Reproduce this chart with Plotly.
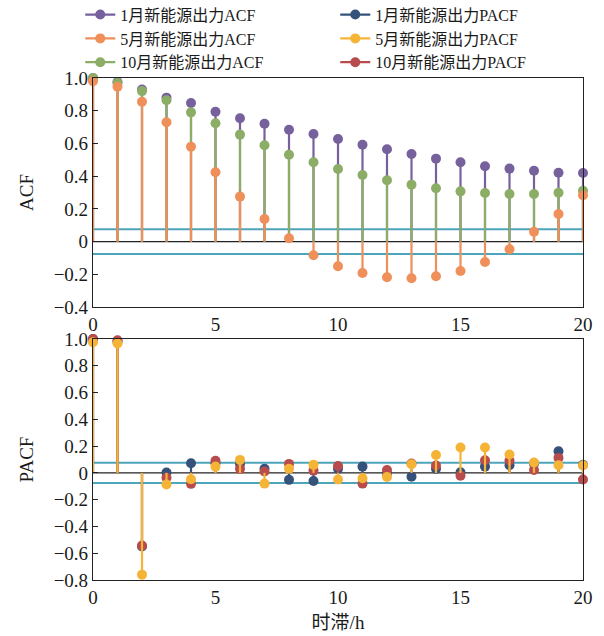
import plotly.graph_objects as go
from plotly.subplots import make_subplots

lags = list(range(21))

acf_jan = [1.0, 0.975, 0.93, 0.88, 0.847, 0.794, 0.754, 0.72, 0.684, 0.658, 0.627,
           0.592, 0.564, 0.535, 0.507, 0.485, 0.46, 0.446, 0.433, 0.421, 0.419]
acf_may = [0.98, 0.947, 0.855, 0.73, 0.58, 0.424, 0.275, 0.138, 0.02, -0.084, -0.151,
           -0.192, -0.218, -0.224, -0.212, -0.18, -0.125, -0.047, 0.06, 0.169, 0.283]
acf_oct = [1.0, 0.97, 0.92, 0.864, 0.79, 0.723, 0.654, 0.589, 0.531, 0.485, 0.444,
           0.407, 0.375, 0.348, 0.326, 0.307, 0.297, 0.291, 0.291, 0.299, 0.311]

pacf_jan = [1.0, 0.98, -0.55, 0.003, 0.072, 0.072, 0.067, 0.03, -0.052, -0.06, 0.03,
            0.047, -0.003, -0.028, 0.03, 0.005, 0.047, 0.057, 0.068, 0.162, 0.06]
pacf_may = [0.976, 0.966, -0.76, -0.087, -0.048, 0.047, 0.097, -0.08, 0.03, 0.06, -0.05,
            -0.04, -0.03, 0.064, 0.134, 0.19, 0.19, 0.137, 0.077, 0.057, 0.057]
pacf_oct = [1.0, 0.99, -0.543, -0.037, -0.082, 0.09, 0.03, 0.01, 0.067, 0.017, 0.052,
            -0.08, 0.022, 0.07, 0.055, -0.022, 0.094, 0.092, 0.022, 0.112, -0.05]

conf = 0.0756

acf_ticks = [-0.4, -0.2, 0, 0.2, 0.4, 0.6, 0.8, 1.0]
acf_ticktext = ["\u22120.4", "\u22120.2", "0", "0.2", "0.4", "0.6", "0.8", "1.0"]
pacf_ticks = [-0.8, -0.6, -0.4, -0.2, 0, 0.2, 0.4, 0.6, 0.8, 1.0]
pacf_ticktext = ["\u22120.8", "\u22120.6", "\u22120.4", "\u22120.2", "0", "0.2", "0.4", "0.6", "0.8", "1.0"]
x_ticks = [0, 5, 10, 15, 20]

FONT = "Liberation Serif, Noto Sans CJK SC, serif"

C_PURPLE = "#76619D"
C_ORANGE = "#EF8F5A"
C_GREEN = "#8CAD66"
C_NAVY = "#35527B"
C_YELLOW = "#F6B436"
C_RED = "#B84C4C"
C_TEAL = "#4CA5BA"

fig = make_subplots(rows=2, cols=1, shared_xaxes=False, vertical_spacing=0.0)


def add_series(vals, color, name, rank, row):
    xs, ys = [], []
    for x, v in zip(lags, vals):
        xs += [x, x, None]
        ys += [0, v, None]
    fig.add_trace(go.Scatter(x=xs, y=ys, mode="lines", line=dict(color=color, width=2.2),
                             showlegend=False, hoverinfo="skip", cliponaxis=False), row=row, col=1)
    fig.add_trace(go.Scatter(x=lags, y=vals, mode="markers",
                             marker=dict(color=color, size=10), showlegend=False,
                             cliponaxis=False), row=row, col=1)
    fig.add_trace(go.Scatter(x=[None], y=[None], mode="lines+markers", name=name,
                             line=dict(color=color, width=2.2), marker=dict(color=color, size=10),
                             legendrank=rank), row=row, col=1)


add_series(acf_jan, C_PURPLE, "1月新能源出力ACF", 1, 1)
add_series(acf_oct, C_GREEN, "10月新能源出力ACF", 5, 1)
add_series(acf_may, C_ORANGE, "5月新能源出力ACF", 3, 1)
add_series(pacf_jan, C_NAVY, "1月新能源出力PACF", 2, 2)
add_series(pacf_oct, C_RED, "10月新能源出力PACF", 6, 2)
add_series(pacf_may, C_YELLOW, "5月新能源出力PACF", 4, 2)

shapes = []
for xr, yr in (("x", "y"), ("x2", "y2")):
    shapes.append(dict(type="line", xref=xr + " domain", yref=yr, x0=0, x1=1, y0=conf, y1=conf,
                       line=dict(color=C_TEAL, width=2), layer="below"))
    shapes.append(dict(type="line", xref=xr + " domain", yref=yr, x0=0, x1=1, y0=-conf, y1=-conf,
                       line=dict(color=C_TEAL, width=2), layer="below"))
    shapes.append(dict(type="line", xref=xr + " domain", yref=yr, x0=0, x1=1, y0=0, y1=0,
                       line=dict(color="#222222", width=1.2), layer="below"))

axis_common = dict(showline=True, linecolor="#222222", linewidth=1.2, mirror=True,
                   showgrid=False, zeroline=False,
                   tickfont=dict(family=FONT, size=19, color="#1a1a1a"))

fig.update_xaxes(**axis_common, range=[0, 20], tickvals=x_ticks, ticks="", ticklabelstandoff=0)
fig.update_xaxes(title=dict(text="时滞/h", font=dict(family=FONT, size=19, color="#1a1a1a"), standoff=8),
                 row=2, col=1)
fig.update_yaxes(**axis_common, ticks="inside", ticklen=5, tickcolor="#222222")
fig.update_yaxes(range=[-0.4, 1.0], tickvals=acf_ticks, ticktext=acf_ticktext,
                 title=dict(text="ACF", font=dict(family=FONT, size=19, color="#1a1a1a"), standoff=14),
                 domain=[0.5438, 1.0], row=1, col=1)
fig.update_yaxes(range=[-0.8, 1.0], tickvals=pacf_ticks, ticktext=pacf_ticktext,
                 title=dict(text="PACF", font=dict(family=FONT, size=19, color="#1a1a1a"), standoff=14),
                 domain=[0.0, 0.4801], row=2, col=1)

fig.update_layout(
    width=604, height=636,
    margin=dict(l=93, r=21, t=78, b=56, autoexpand=False),
    plot_bgcolor="white", paper_bgcolor="white",
    shapes=shapes,
    showlegend=True,
    legend=dict(orientation="h", x=-0.026, xanchor="left", y=1.16, yanchor="top",
                font=dict(family=FONT, size=16, color="#1a1a1a"),
                entrywidth=210, entrywidthmode="pixels", tracegroupgap=0,
                bgcolor="rgba(0,0,0,0)", itemwidth=30),
)

fig.write_html("out.html", config={"displayModeBar": False},
               post_script="document.body.style.margin='0';document.body.style.overflow='hidden';")
